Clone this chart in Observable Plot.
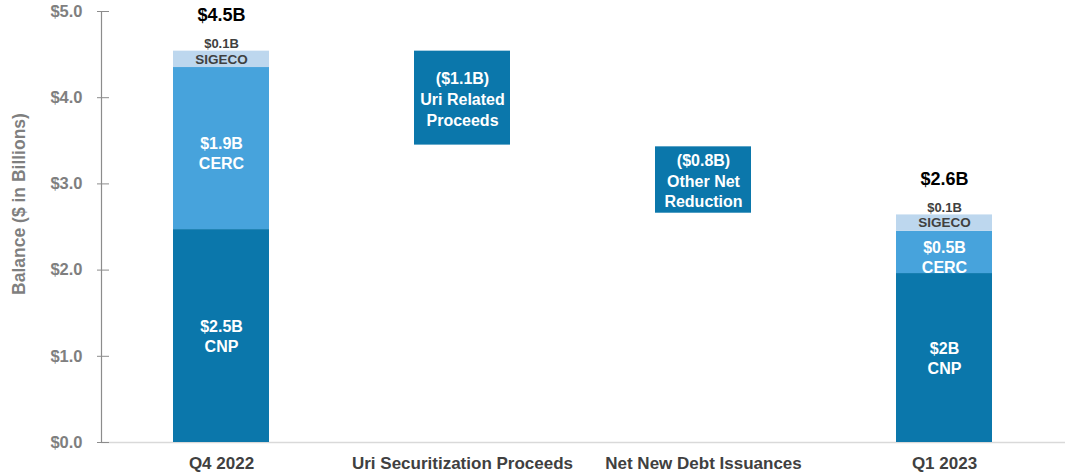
<!DOCTYPE html>
<html>
<head>
<meta charset="utf-8">
<script src="https://cdn.jsdelivr.net/npm/d3@7"></script>
<script src="https://cdn.jsdelivr.net/npm/@observablehq/plot@0.6"></script>
<style>
  html, body { margin: 0; padding: 0; background: #fff; }
  #chart { width: 1066px; height: 475px; }
</style>
</head>
<body>
<div id="chart"></div>
<script>
// ---- Data ----
const categories = ["Q4 2022", "Uri Securitization Proceeds", "Net New Debt Issuances", "Q1 2023"];

const stackCats = ["Q4 2022", "Q1 2023"];
const cnpValues = [2.47, 1.96];
const cercValues = [1.88, 0.49];
const sigecoValues = [0.19, 0.19];
const totalLabels = ["$4.5B", "$2.6B"];
const cnpLabels = ["$2.5B\nCNP", "$2B\nCNP"];
const cercLabels = ["$1.9B\nCERC", "$0.5B\nCERC"];
const sigecoValueLabels = ["$0.1B", "$0.1B"];
const sigecoNameLabels = ["SIGECO", "SIGECO"];

const stepCats = ["Uri Securitization Proceeds", "Net New Debt Issuances"];
const stepStart = [4.54, 3.43];
const stepEnd = [3.45, 2.66];
const stepLabels = ["($1.1B)\nUri Related\nProceeds", "($0.8B)\nOther Net\nReduction"];

const segmentNames = ["CNP", "CERC", "SIGECO"];
const segmentColors = ["#0b77ab", "#47a3dc", "#bdd7ee"];

const yTicks = [0, 1, 2, 3, 4, 5];
const yLabel = "Balance ($ in Billions)";

// ---- Derived tables ----
const segments = stackCats.flatMap((c, i) => [
  {cat: c, seg: "CNP", v: cnpValues[i]},
  {cat: c, seg: "CERC", v: cercValues[i]},
  {cat: c, seg: "SIGECO", v: sigecoValues[i]}
]);
const stackInfo = stackCats.map((c, i) => {
  const total = cnpValues[i] + cercValues[i] + sigecoValues[i];
  return {
    cat: c,
    cnpMid: cnpValues[i] / 2,
    cercMid: cnpValues[i] + cercValues[i] / 2,
    sigMid: cnpValues[i] + cercValues[i] + sigecoValues[i] / 2,
    total,
    totalLabel: totalLabels[i],
    cnpLabel: cnpLabels[i],
    cercLabel: cercLabels[i],
    sigValLabel: sigecoValueLabels[i],
    sigNameLabel: sigecoNameLabels[i]
  };
});
const steps = stepCats.map((c, i) => ({
  cat: c, start: stepStart[i], end: stepEnd[i],
  mid: (stepStart[i] + stepEnd[i]) / 2, label: stepLabels[i]
}));

const chart = Plot.plot({
  width: 1066,
  height: 475,
  marginLeft: 101,
  marginRight: 1,
  marginTop: 11,
  marginBottom: 33,
  style: {fontFamily: "'Liberation Sans', Arial, sans-serif", background: "#fff"},
  x: {domain: categories, paddingInner: 0.6, paddingOuter: 0.3, label: null},
  y: {domain: [0, 5], label: null},
  color: {domain: segmentNames, range: segmentColors},
  marks: [
    Plot.ruleY([0], {stroke: "#d9d9d9", strokeWidth: 1.5}),
    Plot.barY(segments, {x: "cat", y: "v", fill: "seg", order: null}),
    Plot.rectY(steps, {x: "cat", y1: "start", y2: "end", fill: segmentColors[0]}),
    Plot.frame({anchor: "left", stroke: "#8c8c8c", strokeWidth: 1.2}),
    Plot.axisY({ticks: yTicks, tickSize: 12, dx: 8, tickFormat: () => "", stroke: "#8c8c8c", label: null}),
    Plot.axisY({ticks: yTicks, tickSize: 0, tickPadding: 19, tickFormat: d => "$" + d.toFixed(1),
      fill: "#7f7f7f", fontSize: 16.5, fontWeight: "bold", label: null}),
    Plot.axisX({tickSize: 0, tickPadding: 14, fill: "#404040", fontSize: 17, fontWeight: "bold", label: null}),
    Plot.text([yLabel], {frameAnchor: "left", textAnchor: "middle", rotate: -90, dx: -82, dy: -23,
      fill: "#7f7f7f", fontSize: 17.5, fontWeight: "bold"}),
    // stacked labels
    Plot.text(stackInfo, {x: "cat", y: "cnpMid", text: "cnpLabel", fill: "white", fontSize: 16, fontWeight: "bold", lineHeight: 1.25}),
    Plot.text(stackInfo, {x: "cat", y: "cercMid", text: "cercLabel", fill: "white", fontSize: 16, fontWeight: "bold", lineHeight: 1.25, dy: 4}),
    Plot.text(stackInfo, {x: "cat", y: "sigMid", text: "sigNameLabel", fill: "#404040", fontSize: 13.5, fontWeight: "bold"}),
    Plot.text(stackInfo, {x: "cat", y: "total", text: "sigValLabel", fill: "#404040", fontSize: 13, fontWeight: "bold", dy: -7}),
    Plot.text(stackInfo, {x: "cat", y: "total", text: "totalLabel", fill: "#000", fontSize: 18, fontWeight: "bold", dy: -36}),
    // step labels
    Plot.text(steps, {x: "cat", y: "mid", text: "label", fill: "white", fontSize: 16, fontWeight: "bold", lineHeight: 1.3})
  ]
});
document.getElementById("chart").appendChild(chart);
</script>
</body>
</html>
